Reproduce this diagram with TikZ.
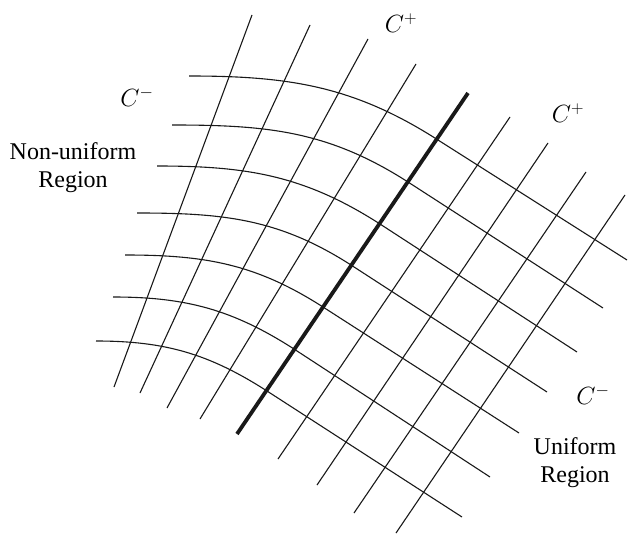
\documentclass[tikz,border=0pt]{standalone}
\usepackage{fontspec}
\setmainfont{Liberation Serif}
\usetikzlibrary{calc}

\begin{document}
\begin{tikzpicture}[x=1pt,y=-1pt,font=\fontsize{24}{28}\selectfont,
    charline/.style={draw=black!90,line width=1.1pt},
    front/.style={draw=black!90,line width=3.8pt},
    lbl/.style={inner sep=0pt,align=center}]
  \useasboundingbox (0,0) rectangle (629,535);
  % C+ family (straight)
  \foreach \ax/\ay/\bx/\by [count=\i] in {252/15/114/387,310/25/140/393,
      368/39/167/408,416/64/200/419,510/117/278/459,548/143/317/485,
      586/172/354/513,625/195/396/533}{
    \coordinate (pt\i) at (\ax,\ay);
    \coordinate (pb\i) at (\bx,\by);
    \draw[charline] (pt\i) -- (pb\i);
  }
  % C- family (curved left of the front, straight right of it)
  \foreach \sx/\sy/\tx/\ty/\rx/\ry/\k [count=\j] in {189/76/438/140/627/260/100,
      172/125/408/182/603/308/95,157/166/380/224/577/352/90,
      137/213/351/265/547/392/86,125/255/323/307/519/433/80,
      113/297/294/349/490/477/73,96/341/267/391/462/517/69}{
    \coordinate (ms\j) at (\sx,\sy);
    \coordinate (mt\j) at (\tx,\ty);
    \coordinate (mr\j) at (\rx,\ry);
    \draw[charline] (ms\j) .. controls ($(ms\j)+(\k,0)$)
      and ($(mt\j)+(-0.842*\k,-0.54*\k)$) .. (mt\j) -- (mr\j);
  }
  % front between the two regions
  \coordinate (ftop) at (468,93);
  \coordinate (fbot) at (237,434);
  \draw[front] (ftop) -- (fbot);
  % labels
  \node[lbl] (cmleft)  at (137,97)  {$C^-$};
  \node[lbl] (cptop)   at (401,23)  {$C^+$};
  \node[lbl] (cpright) at (568,113) {$C^+$};
  \node[lbl] (cmright) at (593,395) {$C^-$};
  \node[lbl] (nonuni)  at (73,168)  {Non-uniform\\Region};
  \node[lbl] (uni)     at (575,463) {Uniform\\Region};
\end{tikzpicture}
\end{document}
